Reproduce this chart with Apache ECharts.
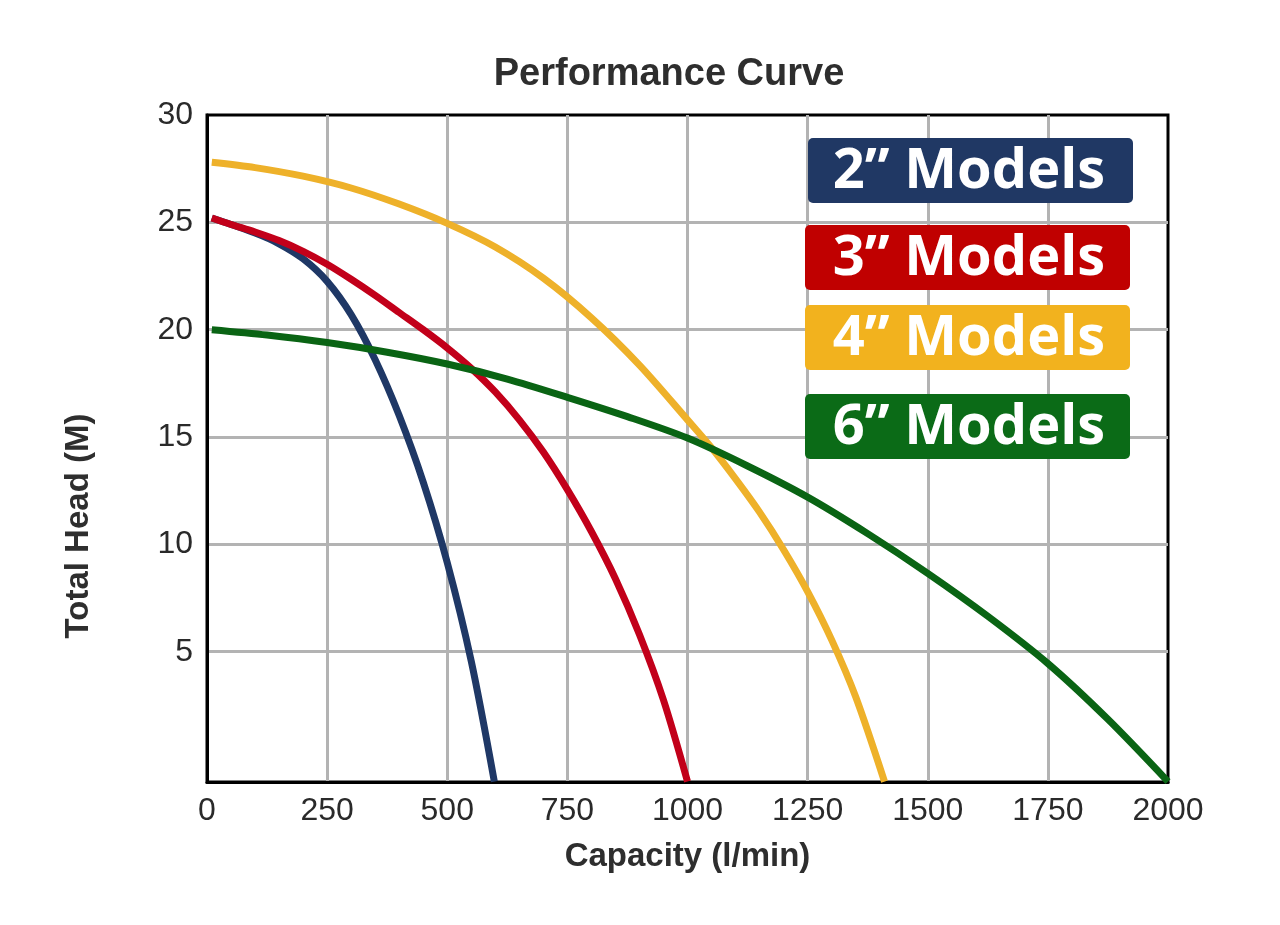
<!DOCTYPE html>
<html>
<head>
<meta charset="utf-8">
<script src="https://cdn.jsdelivr.net/npm/echarts@6/dist/echarts.min.js"></script>
<style>
html,body{margin:0;padding:0;background:#fff;}
#chart{width:1280px;height:925px;}
</style>
</head>
<body>
<div id="chart"></div>
<script>
// ---- Data ----
const xTickValues = [0, 250, 500, 750, 1000, 1250, 1500, 1750, 2000];
const yTickValues = [5, 10, 15, 20, 25, 30];

const models = ['2\u201D Models', '3\u201D Models', '4\u201D Models', '6\u201D Models'];

const flow2 = [10, 100, 150, 200, 250, 300, 350, 400, 450, 500, 550, 598];
const head2 = [25.2, 24.5, 24.0, 23.3, 22.25, 20.7, 18.6, 16.0, 12.9, 9.15, 4.55, -1.05];

const flow3 = [10, 50, 100, 150, 200, 250, 300, 350, 400, 450, 500, 550, 600, 650, 700, 750, 800, 850, 900, 950, 1000];
const head3 = [25.2, 24.9, 24.55, 24.15, 23.65, 23.05, 22.35, 21.6, 20.8, 20.0, 19.15, 18.2, 17.1, 15.8, 14.3, 12.55, 10.6, 8.4, 5.8, 2.75, -1.05];

const flow4 = [10, 100, 200, 300, 400, 500, 600, 700, 800, 900, 1000, 1050, 1100, 1150, 1200, 1250, 1300, 1350, 1410];
const head4 = [27.8, 27.55, 27.15, 26.6, 25.85, 24.95, 23.85, 22.4, 20.55, 18.35, 15.8, 14.5, 13.05, 11.5, 9.75, 7.8, 5.55, 2.9, -1.05];

const flow6 = [10, 125, 250, 375, 500, 625, 750, 875, 1000, 1125, 1250, 1375, 1500, 1625, 1750, 1875, 2000];
const head6 = [20.0, 19.75, 19.4, 18.95, 18.4, 17.7, 16.85, 15.95, 14.95, 13.65, 12.2, 10.5, 8.65, 6.65, 4.45, 1.85, -1.05];

const lineColors = ['#1f3866', '#c2001a', '#eeb12a', '#0a6414'];
const boxColors = ['#203864', '#c00000', '#f2b21e', '#0b6b17'];

// ---- Build ----
function pairs(xs, ys) { return xs.map((x, i) => [x, ys[i]]); }
const seriesData = [pairs(flow2, head2), pairs(flow3, head3), pairs(flow4, head4), pairs(flow6, head6)];

const chart = echarts.init(document.getElementById('chart'), null, {renderer: 'canvas'});

const boxTops = [138, 225, 305, 394];
const boxLefts = [808, 805, 805, 805];
const graphics = [];
models.forEach((m, i) => {
  graphics.push({
    type: 'rect', left: boxLefts[i], top: boxTops[i],
    shape: {width: 325, height: 65, r: 5},
    style: {fill: boxColors[i]}, z: 100
  });
  graphics.push({
    type: 'text', x: 969, y: boxTops[i] + 34,
    style: {
      text: m, fill: '#ffffff', font: 'bold 56px "Open Sans"',
      textAlign: 'center', textVerticalAlign: 'middle'
    }, z: 101
  });
});

const option = {
  backgroundColor: '#ffffff',
  animation: false,
  title: {
    text: 'Performance Curve',
    left: 664, top: 51, textAlign: 'center',
    textStyle: {fontFamily: 'Liberation Sans', fontSize: 38, fontWeight: 'bold', color: '#2e2e2e'}
  },
  grid: {
    left: 207, right: 112, top: 115, bottom: 143,
    show: true, borderColor: '#000', borderWidth: 3, backgroundColor: 'transparent'
  },
  xAxis: {
    type: 'value', min: 0, max: 2000, interval: 250,
    name: 'Capacity (l/min)', nameLocation: 'middle', nameGap: 58,
    nameTextStyle: {fontFamily: 'Liberation Sans', fontSize: 33, fontWeight: 'bold', color: '#2e2e2e'},
    axisLine: {show: true, onZero: false, lineStyle: {color: '#000', width: 3}},
    axisTick: {show: false},
    axisLabel: {fontFamily: 'Liberation Sans', fontSize: 32, color: '#2a2a2a', margin: 13,
                customValues: xTickValues, formatter: (v) => String(v)},
    splitLine: {show: true, showMinLine: false, showMaxLine: false, lineStyle: {color: '#b3b3b3', width: 3}}
  },
  yAxis: {
    type: 'value', min: -1.07, max: 30,
    name: 'Total Head (M)', nameLocation: 'middle', nameGap: 112, nameRotate: 90,
    nameTextStyle: {fontFamily: 'Liberation Sans', fontSize: 33, fontWeight: 'bold', color: '#2e2e2e',
                    padding: [0, 155, 0, 0]},
    axisLine: {show: true, onZero: false, lineStyle: {color: '#000', width: 3}},
    axisTick: {show: false, customValues: [5, 10, 15, 20, 25]},
    axisLabel: {fontFamily: 'Liberation Sans', fontSize: 32, color: '#2a2a2a', margin: 14,
                customValues: yTickValues, formatter: (v) => String(v)},
    splitLine: {show: true, lineStyle: {color: '#b3b3b3', width: 3}}
  },
  series: models.map((m, i) => ({
    name: m, type: 'line', data: seriesData[i], smooth: 0.3,
    showSymbol: false, symbol: 'none', clip: true,
    lineStyle: {color: lineColors[i], width: 7}, z: 10 + i
  })),
  graphic: graphics
};
chart.setOption(option);
</script>
</body>
</html>
